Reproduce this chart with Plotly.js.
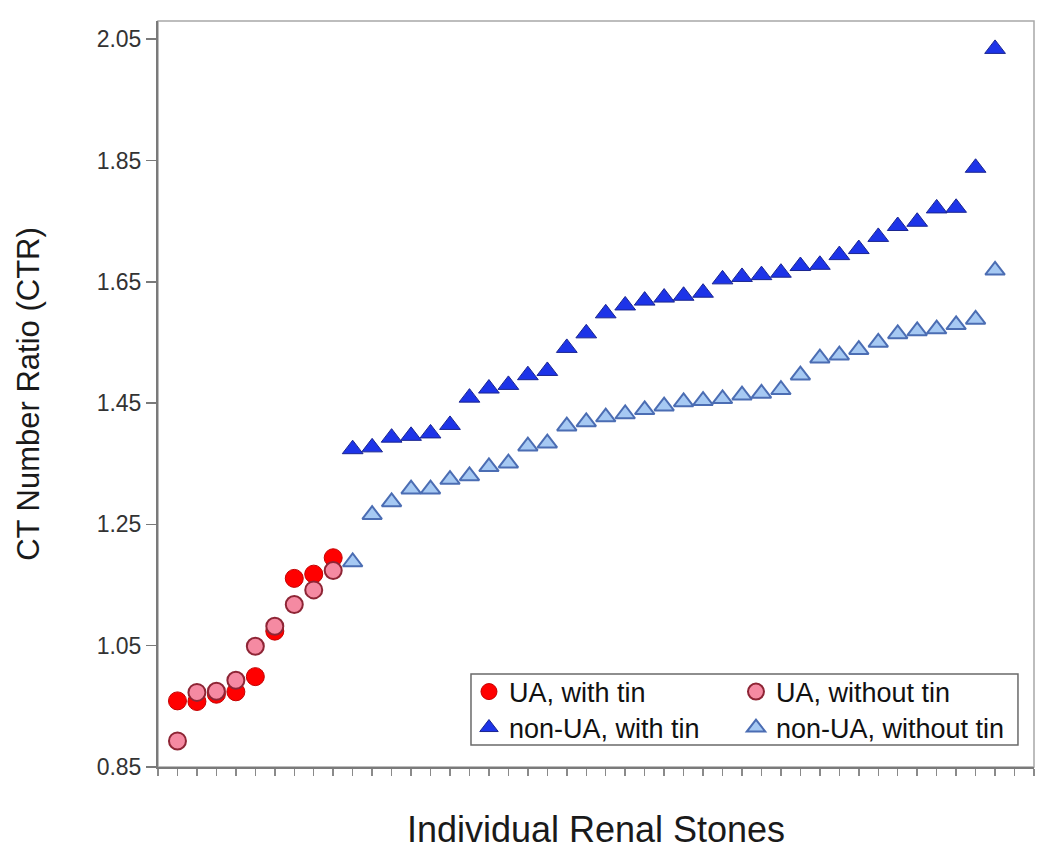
<!DOCTYPE html>
<html>
<head>
<meta charset="utf-8">
<script src="https://cdn.plot.ly/plotly-3.0.1.min.js"></script>
<style>html,body{margin:0;padding:0;background:#fff;}#chart{width:1050px;height:858px;}</style>
</head>
<body>
<div id="chart"></div>
<script>
// Stone index (x) for each series
var uaStones = [1, 2, 3, 4, 5, 6, 7, 8, 9];
var nonUaStones = [10, 11, 12, 13, 14, 15, 16, 17, 18, 19, 20, 21, 22, 23, 24, 25, 26, 27, 28, 29, 30, 31, 32, 33, 34, 35, 36, 37, 38, 39, 40, 41, 42, 43];

// CT number ratio values
var uaWithTin = [0.959, 0.958, 0.970, 0.974, 0.999, 1.074, 1.161, 1.168, 1.195];
var uaWithoutTin = [0.893, 0.973, 0.975, 0.993, 1.049, 1.082, 1.118, 1.142, 1.174];
var nonUaWithTin = [1.374, 1.377, 1.393, 1.396, 1.400, 1.414, 1.459, 1.474, 1.480, 1.496, 1.503, 1.541, 1.565, 1.598, 1.611, 1.619, 1.624, 1.627, 1.632, 1.654, 1.658, 1.661, 1.665, 1.676, 1.678, 1.694, 1.704, 1.724, 1.742, 1.749, 1.771, 1.772, 1.838, 2.034];
var nonUaWithoutTin = [1.188, 1.266, 1.287, 1.308, 1.308, 1.324, 1.330, 1.345, 1.351, 1.379, 1.384, 1.412, 1.419, 1.427, 1.432, 1.439, 1.445, 1.452, 1.454, 1.457, 1.463, 1.466, 1.472, 1.496, 1.524, 1.529, 1.538, 1.550, 1.564, 1.569, 1.572, 1.579, 1.588, 1.669];

var yTickVals = [0.85, 1.05, 1.25, 1.45, 1.65, 1.85, 2.05];
var yTickText = ['0.85', '1.05', '1.25', '1.45', '1.65', '1.85', '2.05'];

var traces = [
  {x: uaStones, y: uaWithTin, name: 'UA, with tin', type: 'scatter', mode: 'markers', legend: 'legend',
   marker: {symbol: 'circle', size: 18, color: '#ff0000', line: {color: '#c40000', width: 1}}},
  {x: uaStones, y: uaWithoutTin, name: 'UA, without tin', type: 'scatter', mode: 'markers', legend: 'legend',
   marker: {symbol: 'circle', size: 17, color: '#f58aa2', line: {color: '#8e2535', width: 2}}},
  {x: nonUaStones, y: nonUaWithTin, name: 'non-UA, with tin', type: 'scatter', mode: 'markers', legend: 'legend2',
   marker: {symbol: 'triangle-up', size: 18, color: '#1d34e8', line: {color: '#1a2590', width: 1}}},
  {x: nonUaStones, y: nonUaWithoutTin, name: 'non-UA, without tin', type: 'scatter', mode: 'markers', legend: 'legend2',
   marker: {symbol: 'triangle-up', size: 17, color: '#a6c9f3', line: {color: '#4b6db3', width: 2}}}
];

var legendFont = {family: 'Liberation Sans, Arial, sans-serif', size: 27, color: '#111'};

var layout = {
  width: 1050, height: 858,
  paper_bgcolor: '#ffffff', plot_bgcolor: '#ffffff',
  margin: {l: 158, r: 16, t: 21, b: 91},
  font: {family: 'Liberation Sans, Arial, sans-serif', color: '#333'},
  showlegend: true,
  xaxis: {
    range: [0, 45], dtick: 1, tick0: 0, showgrid: false, zeroline: false,
    showticklabels: false, ticks: 'outside', ticklen: 7, tickcolor: '#8a8a8a', tickwidth: 1.5,
    showline: true, linecolor: '#7a7a7a', linewidth: 2,
    title: {text: 'Individual Renal Stones', font: {size: 36, color: '#1a1a1a'}, standoff: 42}
  },
  yaxis: {
    range: [0.85, 2.08], tickvals: yTickVals, ticktext: yTickText, showgrid: false, zeroline: false,
    ticks: 'outside', ticklen: 10, tickcolor: '#7a7a7a', tickwidth: 1.5,
    tickfont: {size: 23, color: '#333'},
    showline: true, linecolor: '#7a7a7a', linewidth: 2,
    title: {text: 'CT Number Ratio (CTR)', font: {size: 31, color: '#1a1a1a'}, standoff: 48}
  },
  legend: {x: 0.355, y: 0.1005, xanchor: 'left', yanchor: 'middle', orientation: 'h',
    entrywidth: 222, bgcolor: 'rgba(0,0,0,0)', borderwidth: 0, font: legendFont, traceorder: 'normal'},
  legend2: {x: 0.355, y: 0.0523, xanchor: 'left', yanchor: 'middle', orientation: 'h',
    entrywidth: 222, bgcolor: 'rgba(0,0,0,0)', borderwidth: 0, font: legendFont, traceorder: 'normal'},
  shapes: [
    {type: 'rect', xref: 'paper', yref: 'paper', x0: 0, x1: 1, y0: 0, y1: 1,
     line: {color: '#a8a8a8', width: 1.5}, layer: 'below'},
    {type: 'rect', xref: 'paper', yref: 'paper', x0: 0.3573, x1: 0.9817, y0: 0.0295, y1: 0.1247,
     line: {color: '#6a6a6a', width: 1.5}, fillcolor: 'rgba(255,255,255,0)', layer: 'above'}
  ]
};

Plotly.newPlot('chart', traces, layout, {displayModeBar: false, staticPlot: true});
</script>
</body>
</html>
